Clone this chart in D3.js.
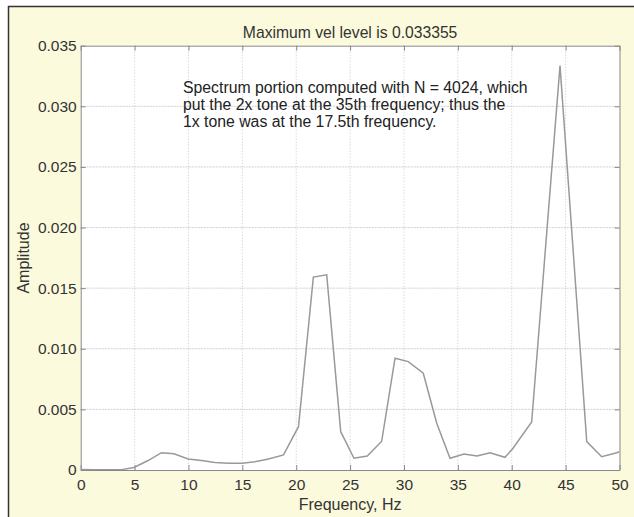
<!DOCTYPE html>
<meta charset="utf-8">
<head>
  <script src="https://d3js.org/d3.v7.min.js"></script>
  <style>
    body { margin: 0; background: #fff; }
    svg { display: block; font-family: 'Liberation Sans', Arial, sans-serif; }
  </style>
</head>
<body>
  <div id="my_dataviz"></div>
</body>
<script>
  // frequency (Hz) and amplitude
  const freq = [0, 1.23, 2.53, 3.79, 4.95, 6.25, 7.50, 8.66, 9.96, 11.21,
    12.46, 13.72, 14.97, 16.17, 17.43, 18.82, 20.21, 21.59, 22.83, 24.13,
    25.36, 26.60, 27.93, 29.17, 30.40, 31.79, 33.04, 34.27, 35.57, 36.78,
    37.98, 39.37, 40.07, 41.85, 44.48, 46.96, 48.35, 49.74, 50];
  const amp = [0.00005, 0.00003, 0.00002, 0.00003, 0.00021, 0.00078, 0.00143, 0.00134, 0.00091, 0.00078,
    0.00062, 0.00055, 0.00055, 0.00068, 0.00091, 0.00124, 0.00357, 0.01591, 0.01610, 0.00316,
    0.00097, 0.00116, 0.00237, 0.00922, 0.00894, 0.00798, 0.00386, 0.00097, 0.00132, 0.00116,
    0.00143, 0.00105, 0.00173, 0.00396, 0.033355, 0.00234, 0.00110, 0.00143, 0.00151];
  const x_ticks = [0, 5, 10, 15, 20, 25, 30, 35, 40, 45, 50];
  const y_ticks = [0, 0.005, 0.010, 0.015, 0.020, 0.025, 0.030, 0.035];
  const title = "Maximum vel level is 0.033355";
  const note = ["Spectrum portion computed with N = 4024, which",
    "put the 2x tone at the 35th frequency; thus the",
    "1x tone was at the 17.5th frequency."];

  const W = 634, H = 517;
  const pl = 80.7, pr = 619.5, pt = 45.7, pb = 470;

  var svg = d3.select("#my_dataviz")
    .append("svg")
    .attr("width", W)
    .attr("height", H);

  // figure background + frame
  svg.append("rect")
    .attr("x", 8).attr("y", 6)
    .attr("width", W - 8).attr("height", H - 6)
    .attr("fill", "#fcfadc");
  svg.append("path")
    .attr("d", `M8.5,${H}V6.5H${W}`)
    .attr("fill", "none")
    .attr("stroke", "#333")
    .attr("stroke-width", 1.5);

  svg.append("rect")
    .attr("x", pl).attr("y", pt)
    .attr("width", pr - pl).attr("height", pb - pt)
    .attr("fill", "#fff");

  var x = d3.scaleLinear().domain([0, 50]).range([pl, pr]);
  var y = d3.scaleLinear().domain([0, 0.035]).range([pb, pt]);

  // grid
  svg.append("g").selectAll("line")
    .data(x_ticks.slice(1, -1))
    .enter().append("line")
    .attr("x1", d => x(d)).attr("x2", d => x(d))
    .attr("y1", pt).attr("y2", pb)
    .attr("stroke", "#bbb").attr("stroke-width", 0.8)
    .attr("stroke-dasharray", "1,2");
  svg.append("g").selectAll("line")
    .data(y_ticks.slice(1, -1))
    .enter().append("line")
    .attr("x1", pl).attr("x2", pr)
    .attr("y1", d => y(d)).attr("y2", d => y(d))
    .attr("stroke", "#c4c4c4").attr("stroke-width", 0.8)
    .attr("stroke-dasharray", "2,1");

  // axes, MATLAB box style with inward ticks
  const fmtY = d => d === 0 ? "0" : d3.format(".3f")(d);
  var axB = svg.append("g").attr("transform", `translate(0,${pb})`)
    .call(d3.axisBottom(x).tickValues(x_ticks).tickSizeInner(-5).tickSizeOuter(0).tickPadding(9));
  var axT = svg.append("g").attr("transform", `translate(0,${pt})`)
    .call(d3.axisTop(x).tickValues(x_ticks).tickSizeInner(-5).tickSizeOuter(0).tickFormat(""));
  var axL = svg.append("g").attr("transform", `translate(${pl},0)`)
    .call(d3.axisLeft(y).tickValues(y_ticks).tickSizeInner(-5).tickSizeOuter(0).tickPadding(4).tickFormat(fmtY));
  var axR = svg.append("g").attr("transform", `translate(${pr},0)`)
    .call(d3.axisRight(y).tickValues(y_ticks).tickSizeInner(-5).tickSizeOuter(0).tickFormat(""));
  [axB, axT, axL, axR].forEach(g => {
    g.select(".domain").attr("stroke", "#888");
    g.selectAll(".tick line").attr("stroke", "#888");
    g.selectAll("text").attr("fill", "#333").attr("font-size", 15.5)
      .attr("font-family", "'Liberation Sans', Arial, sans-serif");
  });

  // spectrum line
  svg.append("clipPath").attr("id", "clip")
    .append("rect").attr("x", pl).attr("y", pt)
    .attr("width", pr - pl).attr("height", pb - pt);
  var line = d3.line().x(d => x(d[0])).y(d => y(d[1]));
  svg.append("path")
    .attr("clip-path", "url(#clip)")
    .attr("d", line(d3.zip(freq, amp)))
    .attr("fill", "none")
    .attr("stroke", "#999")
    .attr("stroke-width", 1.5);

  // texts
  svg.append("text")
    .attr("x", (pl + pr) / 2).attr("y", 38)
    .attr("text-anchor", "middle")
    .attr("font-size", 15.7).attr("fill", "#333")
    .text(title);
  svg.append("text")
    .attr("x", (pl + pr) / 2).attr("y", 510)
    .attr("text-anchor", "middle")
    .attr("font-size", 16).attr("fill", "#333")
    .text("Frequency, Hz");
  svg.append("text")
    .attr("transform", "translate(29,258) rotate(-90)")
    .attr("text-anchor", "middle")
    .attr("font-size", 16).attr("fill", "#333")
    .text("Amplitude");
  svg.append("g").selectAll("text")
    .data(note)
    .enter().append("text")
    .attr("x", 183)
    .attr("y", (d, i) => 93 + i * 17)
    .attr("font-size", 15.8).attr("fill", "#222")
    .text(d => d);
</script>
